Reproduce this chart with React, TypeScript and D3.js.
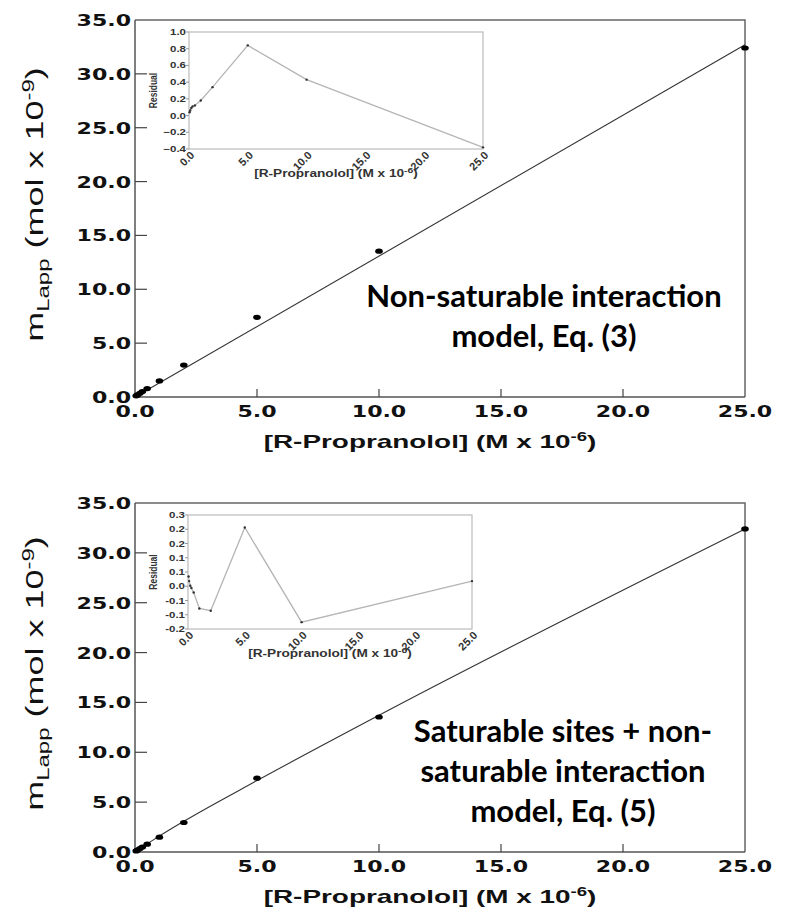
import React from "react";
import * as d3 from "d3";

// ---- data ----
const concX = [0.05, 0.1, 0.2, 0.3, 0.5, 1, 2, 5, 10, 25];
const mLapp = [0.11, 0.19, 0.35, 0.5, 0.78, 1.49, 2.96, 7.4, 13.54, 32.4];
const fitTopX = [0, 25];
const fitTopY = [0, 32.7];
const fitBottomY = [0.08, 0.18, 0.36, 0.52, 0.82, 1.6, 3.08, 7.16, 13.71, 32.39];
const residTop = [0.04, 0.06, 0.09, 0.11, 0.12, 0.18, 0.34, 0.84, 0.43, -0.38];
const residBottom = [0.03, 0.01, -0.01, -0.02, -0.04, -0.11, -0.12, 0.245, -0.17, 0.01];

const mainXTicks = [0, 5, 10, 15, 20, 25];
const mainYTicks = [0, 5, 10, 15, 20, 25, 30, 35];
const insetXTicks = [0, 5, 10, 15, 20, 25];
const insetTopYTicks = [1.0, 0.8, 0.6, 0.4, 0.2, 0.0, -0.2, -0.4];
const insetBotYTicks = [0.3, 0.2375, 0.175, 0.1125, 0.05, -0.0125, -0.075, -0.1375, -0.2];
const insetBotYLabels = ["0.3", "0.2", "0.2", "0.1", "0.1", "0.0", "-0.1", "-0.1", "-0.2"];

const fmt = d3.format(".1f");
const SX = 1.32; // horizontal stretch of the original picture

const T = ({ x, y, anchor = "middle", size, weight = "bold", fill = "#111", family = "'Liberation Sans', Arial, sans-serif", sx = SX, sy = 1, rot = 0, children }: any) => (
  <text
    transform={`translate(${x},${y}) rotate(${rot}) scale(${sx},${sy})`}
    textAnchor={anchor}
    fontSize={size}
    fontWeight={weight}
    fill={fill}
    fontFamily={family}
  >
    {children}
  </text>
);

function Panel({ top, bottom, fit, fitXs, resid, inset, yTickVals, yTickLabels, yDomain, note, noteX, noteY }: any) {
  const x = d3.scaleLinear().domain([0, 25]).range([135, 745]);
  const y = d3.scaleLinear().domain([0, 35]).range([bottom, top]);
  const line = d3.line<number>().x((_, i) => x(fitXs[i])).y((d) => y(d)).curve(d3.curveMonotoneX);
  const ix = d3.scaleLinear().domain([0, 25]).range([inset.l, inset.r]);
  const iy = d3.scaleLinear().domain(yDomain).range([inset.b, inset.t]);
  const iline = d3.line<number>().x((_, i) => ix(concX[i])).y((d) => iy(d));
  const labelFont = "'DejaVu Sans', sans-serif";
  return (
    <g>
      {/* frame */}
      <path d={`M${x(0)},${top}H${x(25)}V${bottom}`} fill="none" stroke="#666" strokeWidth={1.5} />
      <line x1={x(0)} x2={x(25)} y1={bottom} y2={bottom} stroke="#555" strokeWidth={1.5} />
      <line x1={x(0)} x2={x(0)} y1={top} y2={bottom} stroke="#555" strokeWidth={1.5} />
      {mainXTicks.slice(1, -1).map((t) => (
        <line key={t} x1={x(t)} x2={x(t)} y1={bottom} y2={bottom - 8} stroke="#444" strokeWidth={1.2} />
      ))}
      {mainYTicks.slice(1, -1).map((t) => (
        <line key={t} x1={x(0)} x2={x(0) + 12} y1={y(t)} y2={y(t)} stroke="#444" strokeWidth={1.2} />
      ))}
      {mainXTicks.map((t) => (
        <T key={t} x={x(t)} y={bottom + 20} size={16} family={labelFont} sx={1.38}>{fmt(t)}</T>
      ))}
      {mainYTicks.map((t) => (
        <T key={t} x={131} y={y(t) + 6} anchor="end" size={16} family={labelFont} sx={1.38}>{fmt(t)}</T>
      ))}
      <T x={430} y={bottom + 51} size={18} sx={1.55}>
        [R-Propranolol] (M x 10<tspan dy={-7} fontSize={12}>-6</tspan><tspan dy={7}>)</tspan>
      </T>
      <T x={43} y={(top + bottom) / 2 - 4} size={24} weight="normal" rot={-90} sx={1.5} sy={1}>
        m<tspan dy={6} fontSize={16}>Lapp</tspan><tspan dy={-6}> (mol x 10</tspan><tspan dy={-9} fontSize={16}>-9</tspan><tspan dy={9}>)</tspan>
      </T>
      {/* fit line */}
      <path d={line(fit) || ""} fill="none" stroke="#333" strokeWidth={1.1} />
      {mLapp.map((v, i) => (
        <ellipse key={i} cx={x(concX[i])} cy={y(v)} rx={3.8} ry={2.6} fill="#000" />
      ))}
      {/* note */}
      {note.map((s: string, i: number) => (
        <text key={i} x={noteX} y={noteY + i * 40} textAnchor="middle" fontSize={31} fontWeight="bold" fontFamily="Lato, 'Open Sans', sans-serif" fill="#000">{s}</text>
      ))}
      {/* inset */}
      <rect x={inset.l} y={inset.t} width={inset.r - inset.l} height={inset.b - inset.t} fill="#fff" stroke="#bbb" strokeWidth={1.2} />
      <path d={iline(resid) || ""} fill="none" stroke="#b5b5b5" strokeWidth={1.3} />
      {resid.map((v: number, i: number) => (
        <circle key={i} cx={ix(concX[i])} cy={iy(v)} r={1.2} fill="#333" />
      ))}
      {yTickVals.map((t: number, i: number) => (
        <g key={i}>
          <line x1={inset.l - 3} x2={inset.l} y1={iy(t)} y2={iy(t)} stroke="#999" />
          <T x={inset.l - 3} y={iy(t) + 3} anchor="end" size={8.5} fill="#333" sx={1.35}>{yTickLabels[i]}</T>
        </g>
      ))}
      {insetXTicks.map((t) => (
        <text key={t} transform={`translate(${ix(t) + 6},${inset.b + 7}) rotate(-45)`} textAnchor="end" fontSize={11} fontWeight="bold" fill="#333" fontFamily="'Liberation Sans', Arial, sans-serif">{fmt(t)}</text>
      ))}
      <T x={(inset.l + inset.r) / 2} y={inset.b + 28} size={10.5} fill="#333" sx={1.3}>
        [R-Propranolol] (M x 10<tspan dy={-4} fontSize={8}>-6</tspan><tspan dy={4}>)</tspan>
      </T>
      <T x={157} y={(inset.t + inset.b) / 2} size={8.5} fill="#333" rot={-90} sx={1} sy={1.2}>Residual</T>
    </g>
  );
}

export default function App() {
  return (
    <svg width={785} height={916} style={{ position: "absolute", left: 0, top: 0, background: "#fff" }}>
      <rect width={785} height={916} fill="#fff" />
      <Panel
        top={20}
        bottom={397}
        fit={fitTopY}
        fitXs={fitTopX}
        resid={residTop}
        inset={{ l: 189, r: 483, t: 32, b: 149 }}
        yTickVals={insetTopYTicks}
        yTickLabels={insetTopYTicks.map((v) => fmt(v))}
        yDomain={[-0.4, 1.0]}
        note={["Non-saturable interaction", "model, Eq. (3)"]}
        noteX={544}
        noteY={307}
      />
      <Panel
        top={503}
        bottom={852}
        fit={fitBottomY}
        fitXs={concX}
        resid={residBottom}
        inset={{ l: 188, r: 472, t: 515, b: 629 }}
        yTickVals={insetBotYTicks}
        yTickLabels={insetBotYLabels}
        yDomain={[-0.2, 0.3]}
        note={["Saturable sites + non-", "saturable interaction", "model, Eq. (5)"]}
        noteX={563}
        noteY={742}
      />
    </svg>
  );
}
